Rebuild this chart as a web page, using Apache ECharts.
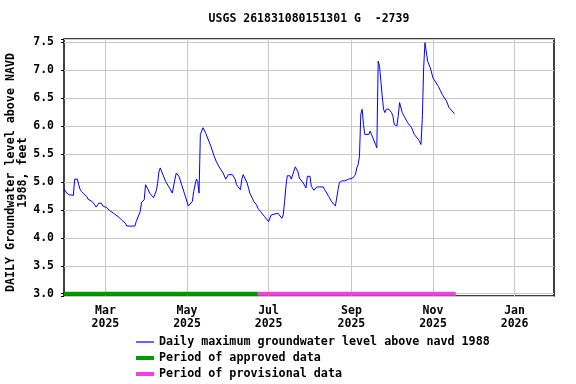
<!DOCTYPE html>
<html>
<head>
<meta charset="utf-8">
<script src="https://cdn.jsdelivr.net/npm/echarts@6/dist/echarts.min.js"></script>
<style>html,body{margin:0;padding:0;background:#fff;}#c{width:576px;height:384px;}</style>
</head>
<body>
<div id="c"></div>
<script>
var titleText = 'USGS 261831080151301 G  -2739';
var yAxisName = 'DAILY Groundwater level above NAVD\n1988, feet';
var seriesNames = ['Daily maximum groundwater level above navd 1988', 'Period of approved data', 'Period of provisional data'];
var monthNames = ['Jan','Feb','Mar','Apr','May','Jun','Jul','Aug','Sep','Oct','Nov','Dec'];
var xTickDates = ['2025-03-01','2025-05-01','2025-07-01','2025-09-01','2025-11-01','2026-01-01'];
var xRange = ['2025-01-29', '2026-01-30 12:00'];
var yRange = [2.959, 7.557];

var dates = [
'2025-01-29','2025-01-31','2025-02-02','2025-02-05','2025-02-06','2025-02-08','2025-02-09','2025-02-10','2025-02-11','2025-02-13',
'2025-02-15','2025-02-16','2025-02-19','2025-02-20','2025-02-21','2025-02-22','2025-02-23','2025-02-24','2025-02-26','2025-02-27',
'2025-03-02','2025-03-04','2025-03-07','2025-03-11','2025-03-13','2025-03-16','2025-03-17','2025-03-23','2025-03-24','2025-03-27',
'2025-03-28','2025-03-30','2025-03-31','2025-04-01','2025-04-02','2025-04-03','2025-04-04','2025-04-06','2025-04-08','2025-04-09',
'2025-04-10','2025-04-11','2025-04-13','2025-04-15','2025-04-18','2025-04-20','2025-04-21','2025-04-22','2025-04-23','2025-04-25',
'2025-04-27','2025-04-29','2025-05-02','2025-05-03','2025-05-05','2025-05-06','2025-05-08','2025-05-09','2025-05-10','2025-05-11',
'2025-05-13','2025-05-14','2025-05-15','2025-05-17','2025-05-19','2025-05-21','2025-05-23','2025-05-25','2025-05-28','2025-05-30',
'2025-05-31','2025-06-01','2025-06-04','2025-06-06','2025-06-07','2025-06-10','2025-06-11','2025-06-12','2025-06-13','2025-06-15',
'2025-06-17','2025-06-20','2025-06-22','2025-06-23','2025-06-25','2025-06-26','2025-06-28','2025-07-01','2025-07-02','2025-07-03',
'2025-07-04','2025-07-08','2025-07-09','2025-07-11','2025-07-12','2025-07-13','2025-07-14','2025-07-15','2025-07-17','2025-07-18',
'2025-07-19','2025-07-21','2025-07-23','2025-07-24','2025-07-27','2025-07-29','2025-07-30','2025-08-01','2025-08-02','2025-08-04',
'2025-08-06','2025-08-11','2025-08-12','2025-08-15','2025-08-17','2025-08-20','2025-08-21','2025-08-22','2025-08-23','2025-08-25',
'2025-08-27','2025-08-28','2025-08-30','2025-08-31','2025-09-02','2025-09-04','2025-09-05','2025-09-06','2025-09-07','2025-09-08',
'2025-09-09','2025-09-10','2025-09-11','2025-09-12','2025-09-14','2025-09-15','2025-09-16','2025-09-17','2025-09-19','2025-09-20',
'2025-09-21','2025-09-22','2025-09-23','2025-09-24','2025-09-25','2025-09-26','2025-09-27','2025-09-29','2025-10-01','2025-10-02',
'2025-10-03','2025-10-05','2025-10-06','2025-10-07','2025-10-08','2025-10-09','2025-10-11','2025-10-13','2025-10-16','2025-10-18',
'2025-10-21','2025-10-22','2025-10-23','2025-10-24','2025-10-25','2025-10-26','2025-10-27','2025-10-28','2025-10-30','2025-11-01',
'2025-11-05','2025-11-08','2025-11-11','2025-11-13','2025-11-17'
];
var levels = [
4.88,4.80,4.77,4.76,5.05,5.05,4.95,4.87,4.83,4.78,
4.74,4.69,4.65,4.62,4.59,4.55,4.55,4.62,4.62,4.57,
4.54,4.49,4.44,4.37,4.32,4.26,4.21,4.21,4.29,4.47,
4.63,4.68,4.95,4.95,4.86,4.80,4.78,4.72,4.84,4.97,
5.18,5.25,5.13,5.01,4.89,4.80,4.77,5.05,5.16,5.10,
4.95,4.80,4.57,4.54,4.65,4.83,5.05,5.01,4.80,5.85,
5.97,5.95,5.87,5.75,5.63,5.48,5.36,5.27,5.16,5.05,
5.05,5.13,5.13,5.05,4.95,4.86,5.05,5.13,5.10,4.98,
4.80,4.65,4.59,4.53,4.47,4.44,4.38,4.29,4.29,4.41,
4.44,4.44,4.41,4.35,4.41,4.65,4.92,5.11,5.11,5.05,
5.05,5.27,5.18,5.07,4.98,4.89,5.10,5.10,4.92,4.85,
4.91,4.91,4.86,4.74,4.65,4.57,4.54,4.86,4.99,5.02,
5.02,5.01,5.05,5.07,5.07,5.13,5.25,5.31,5.46,6.21,
6.30,6.03,5.85,5.88,5.85,5.91,5.85,5.79,5.67,5.61,
7.16,7.07,6.80,6.54,6.30,6.24,6.30,6.30,6.24,6.18,
6.03,6.00,6.18,6.42,6.42,6.24,6.15,6.06,5.97,5.85,
5.76,5.72,5.67,6.12,7.04,7.49,7.49,7.16,7.04,6.86,
6.71,6.56,6.45,6.33,6.22
];
var approvedPeriod = ['2025-01-29', '2025-06-23'];
var provisionalPeriod = ['2025-06-23', '2025-11-18'];
var periodLevel = 3.0;

function toTime(s){ var p = s.split(/[- :]/); return new Date(+p[0], +p[1]-1, +p[2], +(p[3]||0), +(p[4]||0)).getTime(); }

var chart = echarts.init(document.getElementById('c'), null, {renderer:'canvas'});
var FONT = 'DejaVu Sans Mono';
var lineData = dates.map(function(d,i){ return [toTime(d), levels[i]]; });
var xTicks = xTickDates.map(toTime);
// legend icons: horizontal bars inside an 18x14 box (corner move-to points fix the box)
var thinIcon = 'path://M0,0M18,14M0,6.4L18,6.4L18,7.6L0,7.6Z';
var thickIcon = 'path://M0,0M18,14M0,5L18,5L18,9L0,9Z';

chart.setOption({
  animation: false,
  backgroundColor: '#fff',
  textStyle: { fontFamily: FONT, fontWeight: 'bold', color: '#000' },
  graphic: [{
    type: 'text', x: 309, y: 19,
    style: { text: titleText, fontFamily: FONT, fontWeight: 'bold', fontSize: 11.5, fill: '#000', textAlign: 'center', textVerticalAlign: 'middle' }
  }],
  grid: { left: 64, right: 22, top: 39, bottom: 88, outerBoundsMode: 'none', containLabel: false,
          show: true, borderColor: '#000', borderWidth: 1.5, backgroundColor: 'transparent' },
  xAxis: {
    type: 'value',
    min: toTime(xRange[0]), max: toTime(xRange[1]),
    axisLine: { show: false },
    axisTick: { show: false, customValues: xTicks },
    splitLine: { show: true, lineStyle: { color: '#c8c8c8', width: 1 } },
    axisLabel: {
      customValues: xTicks,
      fontFamily: FONT, fontWeight: 'bold', fontSize: 11.5, color: '#000', margin: 8, lineHeight: 13.5,
      formatter: function(v){ var d = new Date(v); return monthNames[d.getMonth()] + '\n' + d.getFullYear(); }
    }
  },
  yAxis: {
    type: 'value',
    min: yRange[0], max: yRange[1],
    splitNumber: 9, minInterval: 0.5, maxInterval: 0.5,
    name: yAxisName, nameLocation: 'middle', nameGap: 35, nameRotate: 90, nameMoveOverlap: false,
    nameTextStyle: { fontFamily: FONT, fontWeight: 'bold', fontSize: 11.7, color: '#000', lineHeight: 12, padding: [0, 10, 0, 0] },
    axisLine: { show: false },
    axisTick: { show: true, length: 3, lineStyle: { color: '#000' } },
    splitLine: { show: true, lineStyle: { color: '#c8c8c8', width: 1 } },
    axisLabel: {
      fontFamily: FONT, fontWeight: 'bold', fontSize: 11.5, color: '#000', margin: 10,
      formatter: function(v){ return Math.abs(v*2 - Math.round(v*2)) < 1e-6 ? v.toFixed(1) : ''; }
    }
  },
  legend: {
    orient: 'vertical', left: 136, top: 335, padding: 0, height: 49,
    itemWidth: 18, itemHeight: 14, itemGap: 2,
    textStyle: { fontFamily: FONT, fontWeight: 'bold', fontSize: 11.7, color: '#000', lineHeight: 14 },
    data: [
      { name: seriesNames[0], icon: thinIcon, itemStyle: { color: '#0000ff' } },
      { name: seriesNames[1], icon: thickIcon, itemStyle: { color: '#009900' } },
      { name: seriesNames[2], icon: thickIcon, itemStyle: { color: '#ee44dd' } }
    ]
  },
  series: [
    { name: seriesNames[0], type: 'line', data: lineData, showSymbol: false, symbol: 'none',
      lineStyle: { color: '#0000ff', width: 1 }, itemStyle: { color: '#0000ff' }, z: 5 },
    { name: seriesNames[1], type: 'line', data: approvedPeriod.map(function(d){ return [toTime(d), periodLevel]; }),
      showSymbol: false, symbol: 'none', lineStyle: { color: '#009900', width: 4 }, itemStyle: { color: '#009900' }, z: 4 },
    { name: seriesNames[2], type: 'line', data: provisionalPeriod.map(function(d){ return [toTime(d), periodLevel]; }),
      showSymbol: false, symbol: 'none', lineStyle: { color: '#ee44dd', width: 4 }, itemStyle: { color: '#ee44dd' }, z: 4 }
  ]
});
</script>
</body>
</html>
